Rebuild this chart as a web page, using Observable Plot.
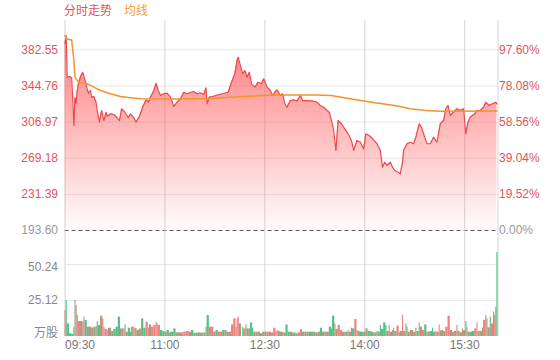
<!DOCTYPE html>
<html><head><meta charset="utf-8">
<script src="https://cdn.jsdelivr.net/npm/d3@7"></script>
<script src="https://cdn.jsdelivr.net/npm/@observablehq/plot@0.6"></script>
<style>
body{margin:0;background:#fff;font-family:"Liberation Sans",Arial,"Noto Sans CJK SC",sans-serif;}
#wrap{position:relative;width:560px;height:360px;overflow:hidden;}
#title{position:absolute;left:64px;top:3px;font-size:12px;line-height:16px;white-space:nowrap;}
#price{position:absolute;left:0;top:20px;}
#vol{position:absolute;left:0;top:230px;}
</style></head><body>
<div id="wrap">
<div id="title"><span style="color:#e8505b">分时走势</span><span style="color:#f39b35;margin-left:12px">均线</span></div>
<div id="price"></div><div id="vol"></div>
</div>
<script>
// ---- data ----
const prevClose = 193.60;
const priceTicks = [193.60, 231.39, 269.18, 306.97, 344.76, 382.55];
const volTicks = [25.12, 50.24];
const timeTicks = [0, 90, 180, 270, 360];          // minutes after 09:30
const timeLabels = ["09:30", "11:00", "12:30", "14:00", "15:30"];

const priceMin = [0,1,2,4,6,7,8,9,10,11,12,14,16,18,19,21,23,24,26,28,29,31,33,35,37,38,41,44,47,49,51,54,57,59,62,64,67,70,73,75,77,80,82,84,86,89,92,95,98,101,104,107,110,113,116,119,122,125,127,128,130,133,136,139,142,147,150,153,155,156,158,160,162,164,166,168,171,174,177,179,182,185,187,189,191,194,196,198,200,203,206,209,212,214,218,224,227,230,233,236,238,240,242,244,246,249,252,255,258,260,263,266,269,271,274,277,281,284,286,288,290,293,295,297,300,302,304,305,308,311,314,316,319,321,323,326,329,332,335,338,341,343,345,347,350,353,356,359,361,363,365,369,371,374,377,379,382,385,388,389];
const priceVal = [389.2,397.5,353.9,354.6,353.6,329.5,303.4,332.7,326.4,340.0,346.3,354.6,359.1,350.5,346.3,336.9,340.0,332.7,333.7,327.4,319.1,306.9,319.1,308.6,317.3,312.8,315.6,314.9,311.5,308.6,320.9,317.3,311.5,315.6,311.5,306.9,312.8,322.5,330.3,327.8,333.0,340.0,347.6,340.0,334.8,336.6,337.2,333.0,323.3,327.8,331.3,338.2,336.6,337.9,339.0,336.6,337.4,335.8,342.8,326.1,333.0,333.7,334.8,335.8,336.6,338.2,348.7,357.5,371.4,374.8,366.1,357.5,360.9,353.9,359.1,347.0,343.5,348.7,347.0,352.2,343.5,340.0,334.8,338.2,340.7,334.8,336.6,326.1,322.5,329.5,330.3,328.8,334.8,329.5,329.5,328.8,327.8,324.3,322.5,319.1,317.3,308.6,298.2,277.3,308.6,305.2,299.9,294.7,287.7,277.3,287.7,285.9,279.0,294.7,292.9,289.5,284.3,277.3,259.8,265.0,261.6,265.0,259.8,256.3,254.6,252.9,265.0,277.3,284.3,285.9,284.3,291.2,305.2,301.6,294.7,284.3,284.3,291.2,285.9,305.2,308.6,320.9,324.3,313.9,317.3,320.9,319.1,320.9,294.7,306.9,312.1,315.6,319.1,319.1,322.5,327.8,324.3,326.1,327.8,326.1];

const avgMin = [0,1,6,8,9,12,20,26,32,41,50,59,68,100,131,160,190,225,240,250,276,300,311,325,338,389];
const avgVal = [397.5,394.1,392.8,371.4,353.9,348.7,347.0,343.5,340.0,336.6,333.7,332.4,331.3,331.1,331.6,333.7,335.3,335.3,334.8,332.7,327.8,323.8,320.9,319.1,318.4,318.6];

const volMin = [
 0,1,2,4,6,8,9,10,11,12,
 14,16,17,18,20,22,24,26,28,29,
 30,32,34,35,36,38,39,41,42,44,
 46,48,50,51,53,54,55,57,59,60,
 62,63,65,67,69,71,73,75,76,78,
 80,82,83,84,86,88,90,92,94,95,
 96,98,100,102,104,106,107,109,111,112,
 114,116,118,120,122,124,125,127,128,130,
 132,134,136,138,140,142,144,146,148,150,
 152,154,155,156,157,160,161,163,164,166,
 167,169,170,172,174,176,178,180,182,184,
 186,188,190,191,192,194,196,197,199,201,
 203,205,206,208,210,212,214,216,218,220,
 222,224,226,228,230,232,234,236,238,240,
 241,243,244,246,248,250,252,253,255,256,
 258,259,261,263,264,266,268,269,271,273,
 275,276,278,279,281,282,284,285,287,289,
 290,292,293,295,296,297,299,301,302,304,
 305,307,308,309,311,313,314,316,317,319,
 320,322,324,326,327,329,331,332,334,335,
 337,338,340,341,343,345,347,349,351,353,
 354,356,358,359,361,362,363,365,367,369,
 371,372,374,376,377,379,380,381,383,384,
 386,387,388,389];
const volAmt = [
 18.1,25.1,8.8,2.0,1.5,6.5,25.1,21.6,14.6,10.5,
 10.5,10.0,13.5,11.2,6.5,6.5,6.0,6.5,7.0,10.5,
 7.7,14.2,12.3,6.5,5.0,4.2,5.8,5.8,3.5,4.9,
 6.5,13.5,5.3,5.3,5.3,8.1,3.0,5.8,3.0,6.5,
 6.5,5.5,4.2,5.3,12.3,5.8,10.0,5.8,8.1,6.5,
 7.7,10.0,8.8,7.7,4.2,3.5,3.0,4.2,2.5,3.0,
 3.0,5.3,2.6,2.6,2.4,2.8,3.0,3.5,3.5,3.0,
 4.2,2.3,2.3,2.5,2.3,2.3,2.5,6.5,14.6,6.5,
 6.5,3.0,4.2,3.0,3.0,4.2,4.2,3.0,3.0,8.1,
 12.3,6.5,12.3,13.5,8.8,6.5,5.3,8.1,5.3,5.3,
 9.5,5.8,3.0,3.0,3.0,1.9,3.0,3.0,3.0,3.0,
 2.5,5.8,3.0,4.2,3.5,3.0,3.0,2.5,8.1,3.0,
 3.0,2.5,2.5,1.9,2.5,4.7,3.0,3.0,3.0,3.0,
 3.0,3.0,2.5,3.0,5.8,3.0,3.0,3.0,6.5,5.3,
 14.2,8.8,5.0,7.7,4.2,3.0,3.0,3.0,4.2,3.0,
 5.8,5.3,11.9,4.2,3.5,3.0,3.0,3.0,5.3,3.5,
 3.5,3.0,2.6,2.5,3.5,3.0,7.7,5.0,9.5,7.7,
 3.5,7.7,3.0,4.2,5.8,3.5,7.2,2.6,3.5,14.7,
 3.5,8.8,6.5,3.0,4.2,4.2,3.0,5.8,3.5,9.5,
 6.5,4.2,8.1,3.0,3.0,3.5,5.8,3.0,3.5,3.0,
 8.1,4.0,4.2,3.5,6.5,14.2,4.2,3.0,3.5,7.7,
 3.5,2.6,5.3,4.0,10.5,6.5,3.0,3.0,3.5,5.3,
 9.5,3.5,3.5,5.8,11.2,14.7,12.3,6.0,13.5,8.8,
 17.0,14.7,20.5,58.6];
// r = down (red), g = up (green), b = mixed
const volDir = (
 "rgggggbbbr"+"brrgbbbbbg"+"gbrrrrbbbg"+"ggbrrgbggb"+"rrgrggrrbr"+
 "rrrrggbgbb"+"ggbbbrrrrb"+"gbgbbgbbgr"+"rbgrrgbbbr"+"rrrrbgrgbb"+
 "ggbbbgbbrb"+"rrbrbbbbgg"+"bbgbbrbbbg"+"bgbbgbbbgg"+"gbbrrbbgrb"+
 "ggrbbggbbg"+"gbgbgbgggg"+"brbbgbrgbr"+"bbgbrbbgbb"+"brgbbggbrb"+
 "rbbbrrbrbb"+"brbbgbbggr"+"rbbbrbbbgr"+"grbg").split("");

// ---- build tables ----
const priceData = priceMin.map((m, i) => ({m, p: priceVal[i]}));
const avgData = avgMin.map((m, i) => ({m, p: avgVal[i]}));
const dirColor = {r: "#f07373", g: "#3dbd78", b: "#a68f72"};
const volData = volMin.map((m, i) => ({
  m,
  m2: i < volMin.length - 1 ? Math.min(volMin[i + 1], m + 2) : Math.min(390, m + 1),
  v: volAmt[i],
  c: dirColor[volDir[i]]
}));

const fontFamily = '"Liberation Sans", Arial, "Noto Sans CJK SC", sans-serif';
const fmtTime = m => timeLabels[timeTicks.indexOf(m)];
const fmtPct = p => ((p / prevClose - 1) * 100).toFixed(2) + "%";
const red = "#e2555d", grey = "#999";
const common = {
  width: 560, marginLeft: 64.5, marginRight: 62.5, marginTop: 0,
  style: {background: "transparent", fontSize: "12px", fontFamily, overflow: "visible"},
  x: {domain: [0, 390], axis: null}
};
const ax = {tickSize: 0, label: null};

const defs = () => {
  const d = d3.create("svg:defs");
  const lg = d.append("linearGradient").attr("id", "pg")
    .attr("gradientUnits", "userSpaceOnUse")
    .attr("x1", 0).attr("x2", 0).attr("y1", 0).attr("y2", 210);
  lg.append("stop").attr("offset", "0%").attr("stop-color", "#ff5a5a").attr("stop-opacity", 0.85);
  lg.append("stop").attr("offset", "100%").attr("stop-color", "#ff5a5a").attr("stop-opacity", 0.02);
  return d.node();
};

const pricePlot = Plot.plot({
  ...common, height: 220, marginBottom: 10,
  y: {domain: [prevClose, prevClose + 210 / 0.9563], axis: null},
  marks: [
    defs,
    Plot.gridY(priceTicks.slice(1), {stroke: "#e6e6e6", strokeOpacity: 1}),
    Plot.ruleX([0, 90, 180, 270, 360, 390], {stroke: "#d4d4d4"}),
    Plot.areaY(priceData, {x: "m", y1: prevClose, y2: "p", fill: "url(#pg)"}),
    Plot.ruleY([prevClose], {stroke: "#7a4848", strokeDasharray: "4,3"}),
    Plot.line(priceData, {x: "m", y: "p", stroke: "#ee474e", strokeWidth: 1.2}),
    Plot.line(avgData, {x: "m", y: "p", stroke: "#f5922a", strokeWidth: 1.5}),
    Plot.axisY(priceTicks.slice(1), {...ax, anchor: "left", tickPadding: 7, tickFormat: d => d.toFixed(2), color: red}),
    Plot.axisY([prevClose], {...ax, anchor: "left", tickPadding: 7, tickFormat: d => d.toFixed(2), color: grey}),
    Plot.axisY(priceTicks.slice(1), {...ax, anchor: "right", tickPadding: 1, tickFormat: fmtPct, color: red}),
    Plot.axisY([prevClose], {...ax, anchor: "right", tickPadding: 1, tickFormat: fmtPct, color: grey})
  ]
});
document.getElementById("price").append(pricePlot);

const volPlot = Plot.plot({
  ...common, height: 130, marginBottom: 24,
  y: {domain: [0, 106 * 25.12 / 36], axis: null},
  color: {type: "identity"},
  marks: [
    Plot.gridY(volTicks, {stroke: "#e6e6e6", strokeOpacity: 1}),
    Plot.ruleX([0, 90, 180, 270, 360, 390], {stroke: "#d4d4d4"}),
    Plot.rectY(volData, {x1: "m", x2: "m2", y: "v", fill: "c", fillOpacity: 0.9}),
    Plot.axisY([25.12], {...ax, anchor: "left", tickPadding: 7, tickFormat: d => d.toFixed(2), color: "#888"}),
    Plot.axisY([50.24], {...ax, anchor: "left", tickPadding: 7, tickFormat: d => d.toFixed(2), color: "#888", dy: 3}),
    Plot.axisY([0], {...ax, anchor: "left", tickPadding: 7, tickFormat: () => "万股", color: "#888", lineAnchor: "bottom"}),
    Plot.axisX([timeTicks[0]], {...ax, anchor: "bottom", tickPadding: 4, tickFormat: fmtTime, color: "#777", textAnchor: "start"}),
    Plot.axisX(timeTicks.slice(1), {...ax, anchor: "bottom", tickPadding: 4, tickFormat: fmtTime, color: "#777"})
  ]
});
document.getElementById("vol").append(volPlot);
</script>
</body></html>
